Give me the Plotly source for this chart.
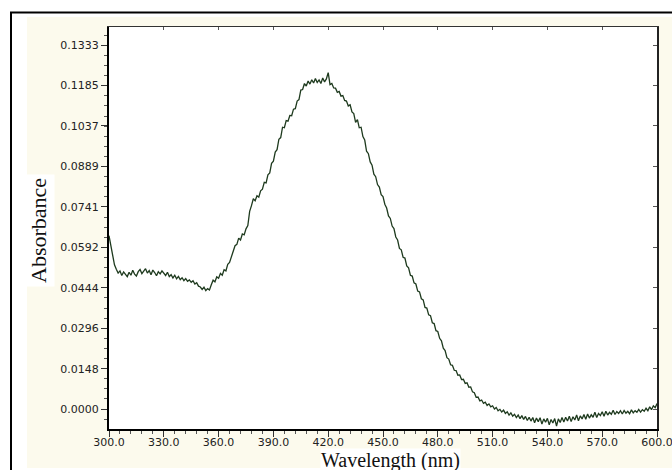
import plotly.graph_objects as go

# ---------------- data ----------------
wavelength = list(range(300, 601))  # nm, 1 nm steps

absorbance = [
    0.0635, 0.0598, 0.0562, 0.0528, 0.0512, 0.0498, 0.0506, 0.0489, 0.0502, 0.0493,
    0.0485, 0.0501, 0.0490, 0.0508, 0.0494, 0.0487, 0.0503, 0.0511, 0.0496, 0.0505,
    0.0514, 0.0498, 0.0507, 0.0492, 0.0509, 0.0500, 0.0488, 0.0503, 0.0495, 0.0506,
    0.0497, 0.0489, 0.0501, 0.0485, 0.0492, 0.0480, 0.0490, 0.0477, 0.0486, 0.0474,
    0.0481, 0.0470, 0.0478, 0.0468, 0.0473, 0.0464, 0.0470, 0.0458, 0.0463, 0.0450,
    0.0447, 0.0438, 0.0446, 0.0434, 0.0441, 0.0436, 0.0455, 0.0472, 0.0466, 0.0484,
    0.0479, 0.0497, 0.0490, 0.0510, 0.0506, 0.0530, 0.0537, 0.0558, 0.0570, 0.0598,
    0.0603, 0.0626, 0.0619, 0.0641, 0.0638, 0.0660, 0.0672, 0.0724, 0.0745, 0.0770,
    0.0763, 0.0781, 0.0776, 0.0799, 0.0805, 0.0830, 0.0828, 0.0858, 0.0865, 0.0900,
    0.0908, 0.0941, 0.0950, 0.0988, 0.0994, 0.1032, 0.1030, 0.1056, 0.1054, 0.1075,
    0.1074, 0.1098, 0.1100, 0.1128, 0.1133, 0.1168, 0.1170, 0.1192, 0.1183, 0.1201,
    0.1190, 0.1206, 0.1194, 0.1210, 0.1196, 0.1205, 0.1192, 0.1212, 0.1198, 0.1209,
    0.1232, 0.1188, 0.1192, 0.1176, 0.1175, 0.1160, 0.1163, 0.1146, 0.1148, 0.1130,
    0.1128, 0.1110, 0.1114, 0.1088, 0.1082, 0.1050, 0.1060, 0.1030, 0.1032, 0.0998,
    0.0985, 0.0944, 0.0935, 0.0905, 0.0893, 0.0860, 0.0851, 0.0822, 0.0813, 0.0785,
    0.0778, 0.0750, 0.0736, 0.0707, 0.0698, 0.0670, 0.0661, 0.0630, 0.0619, 0.0588,
    0.0583, 0.0556, 0.0553, 0.0524, 0.0517, 0.0490, 0.0487, 0.0462, 0.0458, 0.0432,
    0.0429, 0.0404, 0.0400, 0.0372, 0.0370, 0.0345, 0.0342, 0.0316, 0.0313, 0.0287,
    0.0284, 0.0259, 0.0250, 0.0223, 0.0214, 0.0188, 0.0183, 0.0162, 0.0160, 0.0142,
    0.0141, 0.0124, 0.0125, 0.0108, 0.0109, 0.0094, 0.0096, 0.0080, 0.0081, 0.0063,
    0.0060, 0.0043, 0.0044, 0.0030, 0.0033, 0.0021, 0.0025, 0.0013, 0.0019, 0.0008,
    0.0012, 0.0000, 0.0006, -0.0006, -0.0001, -0.0011, -0.0004, -0.0016, -0.0010, -0.0022,
    -0.0014, -0.0026, -0.0019, -0.0031, -0.0022, -0.0035, -0.0024, -0.0038, -0.0027, -0.0042,
    -0.0030, -0.0044, -0.0031, -0.0050, -0.0033, -0.0046, -0.0032, -0.0055, -0.0036, -0.0048,
    -0.0034, -0.0058, -0.0038, -0.0051, -0.0035, -0.0062, -0.0036, -0.0049, -0.0031, -0.0047,
    -0.0030, -0.0044, -0.0026, -0.0046, -0.0028, -0.0040, -0.0022, -0.0043, -0.0025, -0.0036,
    -0.0020, -0.0037, -0.0018, -0.0033, -0.0021, -0.0030, -0.0012, -0.0031, -0.0016, -0.0024,
    -0.0010, -0.0026, -0.0008, -0.0022, -0.0012, -0.0019, -0.0004, -0.0020, -0.0009, -0.0016,
    -0.0006, -0.0018, -0.0005, -0.0015, -0.0008, -0.0017, -0.0003, -0.0014, -0.0006, -0.0012,
    -0.0001, -0.0011, -0.0002, -0.0008, 0.0003, -0.0006, 0.0008, -0.0002, 0.0012, 0.0005,
    0.0020,
]

x_tick_vals = [300, 330, 360, 390, 420, 450, 480, 510, 540, 570, 600]
x_tick_text = ["300.0", "330.0", "360.0", "390.0", "420.0", "450.0",
               "480.0", "510.0", "540.0", "570.0", "600.0"]
y_tick_vals = [0.0, 0.0148, 0.0296, 0.0444, 0.0592, 0.0741, 0.0889, 0.1037, 0.1185, 0.1333]
y_tick_text = ["0.0000", "0.0148", "0.0296", "0.0444", "0.0592", "0.0741",
               "0.0889", "0.1037", "0.1185", "0.1333"]

x_title = "Wavelength (nm)"
y_title = "Absorbance"

# ---------------- layout geometry ----------------
W, H = 672, 470
ML, MR, MT, MB = 109, 15, 27, 41
PW, PH = W - ML - MR, H - MT - MB


def px_x(p):
    return (p - ML) / PW


def px_y(p):
    return (H - MB - p) / PH


x_range = [300, 600]
y_range = [-0.0073, 0.1399]

line_color = "#1e3a1e"
tick_font = dict(family="DejaVu Sans", size=11, color="#222222")

fig = go.Figure()
fig.add_trace(go.Scatter(
    x=wavelength, y=absorbance, mode="lines",
    line=dict(color=line_color, width=1.3),
    showlegend=False, hoverinfo="x+y",
))
# companion trace on the mirrored (top/right) axes so they get drawn
fig.add_trace(go.Scatter(
    x=wavelength, y=absorbance, mode="lines", xaxis="x2", yaxis="y2",
    line=dict(color=line_color, width=1), opacity=0,
    showlegend=False, hoverinfo="skip",
))

fig.update_layout(
    width=W, height=H,
    margin=dict(l=ML, r=MR, t=MT, b=MB, autoexpand=False),
    paper_bgcolor="white",
    plot_bgcolor="white",
    xaxis=dict(
        range=x_range, tickmode="array", tickvals=x_tick_vals, ticktext=x_tick_text,
        ticks="outside", ticklen=6, tickwidth=1, tickcolor="#333333",
        showline=True, linecolor="black", linewidth=2, automargin=False,
        showgrid=False, zeroline=False, tickfont=tick_font,
        ticklabeloverflow="allow", ticklabelstandoff=-4,
        minor=dict(ticks="outside", ticklen=3, tick0=300, dtick=6,
                   tickcolor="#555555", showgrid=False),
    ),
    yaxis=dict(
        range=y_range, tickmode="array", tickvals=y_tick_vals, ticktext=y_tick_text,
        ticks="outside", ticklen=6, tickwidth=1, tickcolor="#333333",
        showline=True, linecolor="black", linewidth=2, automargin=False,
        showgrid=False, zeroline=False, tickfont=tick_font,
        minor=dict(ticks="outside", ticklen=3, tick0=0, dtick=0.0037,
                   tickcolor="#555555", showgrid=False),
    ),
    xaxis2=dict(
        overlaying="x", side="top", anchor="y2", range=x_range,
        tickmode="array", tickvals=x_tick_vals, ticks="inside", ticklen=3,
        tickcolor="#555555", showticklabels=False, automargin=False,
        showline=True, linecolor="#333333", linewidth=1,
        showgrid=False, zeroline=False,
    ),
    yaxis2=dict(
        overlaying="y", side="right", anchor="x2", range=y_range,
        tickmode="array", tickvals=y_tick_vals, ticks="inside", ticklen=4,
        tickcolor="#555555", showticklabels=False, automargin=False,
        showline=True, linecolor="#222222", linewidth=2,
        showgrid=False, zeroline=False,
    ),
    shapes=[
        # cream panel behind the chart
        dict(type="rect", xref="paper", yref="paper", layer="below",
             x0=px_x(27), x1=px_x(W + 2), y0=px_y(468), y1=px_y(17),
             fillcolor="#FCFAED", line=dict(width=0)),
        # white plotting area on top of the cream panel
        dict(type="rect", xref="paper", yref="paper", layer="below",
             x0=0, x1=1, y0=0, y1=1,
             fillcolor="white", line=dict(width=0)),
        # outer black frame (top and left edges)
        dict(type="line", xref="paper", yref="paper",
             x0=px_x(10), x1=px_x(W + 2), y0=px_y(12.5), y1=px_y(12.5),
             line=dict(color="black", width=2)),
        dict(type="line", xref="paper", yref="paper",
             x0=px_x(11), x1=px_x(11), y0=px_y(12), y1=px_y(H + 2),
             line=dict(color="black", width=2)),
    ],
    annotations=[
        dict(text=y_title, xref="paper", yref="paper",
             x=px_x(38), y=px_y(231), xanchor="center", yanchor="middle",
             textangle=-90, showarrow=False,
             font=dict(family="Liberation Serif", size=22, color="#111111"),
             bgcolor="white", borderpad=3),
        dict(text=x_title, xref="paper", yref="paper",
             x=px_x(390), y=px_y(460), xanchor="center", yanchor="middle",
             showarrow=False,
             font=dict(family="Liberation Serif", size=20, color="#111111"),
             bgcolor="white", borderpad=0),
    ],
)

fig.write_html("out.html", config={"displayModeBar": False},
               post_script="document.body.style.margin='0';")
